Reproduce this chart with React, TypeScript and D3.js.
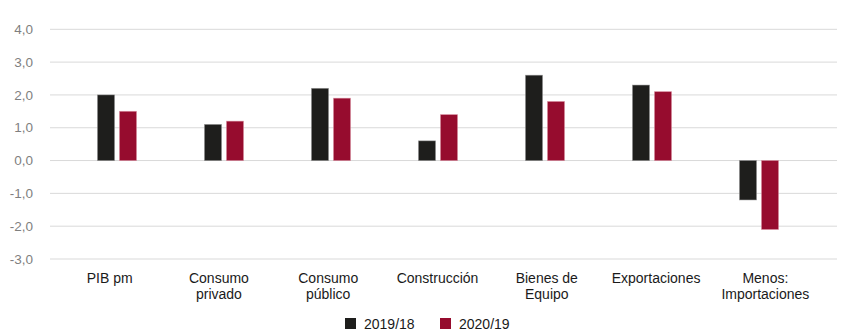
import React from "react";
import * as d3 from "d3";

const categories = [
  ["PIB pm"],
  ["Consumo", "privado"],
  ["Consumo", "público"],
  ["Construcción"],
  ["Bienes de", "Equipo"],
  ["Exportaciones"],
  ["Menos:", "Importaciones"],
];
const seriesNames = ["2019/18", "2020/19"];
const values2019 = [2.0, 1.1, 2.2, 0.6, 2.6, 2.3, -1.2];
const values2020 = [1.5, 1.2, 1.9, 1.4, 1.8, 2.1, -2.1];
const yTicks = [-3, -2, -1, 0, 1, 2, 3, 4];
const colors = ["#1e1e1c", "#960c2e"];

const W = 850;
const H = 336;
const FONT = "'Liberation Sans', Arial, sans-serif";

export default function App() {
  const keys = categories.map((c) => c.join(" "));
  const y = d3.scaleLinear().domain([-3, 4]).range([259, 29.3]);
  const x0 = d3.scaleBand().domain(keys).range([63.5, 812.5]);
  const xl = d3.scaleBand().domain(keys).range([55, 820]);
  const x1 = d3.scaleBand().domain(seriesNames).range([0, 39]).paddingInner(5 / 22);
  const data = [values2019, values2020];
  const fmt = (v: number) => v.toFixed(1).replace(".", ",");

  return (
    <svg width={W} height={H} style={{ position: "absolute", left: 0, top: 0, background: "#fff" }}>
      {yTicks.map((t) => (
        <g key={t}>
          <line x1={50} x2={837} y1={y(t)} y2={y(t)} stroke="#d9d9d9" strokeWidth={1} />
          <text x={33} y={y(t)} dy="0.35em" textAnchor="end" fontFamily={FONT} fontSize={13.5} fill="#7f7f7f">
            {fmt(t)}
          </text>
        </g>
      ))}
      {data.map((vals, si) =>
        vals.map((v, i) => {
          const cx = (x0(keys[i]) as number) + x0.bandwidth() / 2 - 19.5 + (x1(seriesNames[si]) as number);
          const y0 = y(0);
          const yv = y(v);
          return (
            <rect
              key={`${si}-${i}`}
              x={cx}
              y={Math.min(y0, yv)}
              width={x1.bandwidth()}
              height={Math.abs(yv - y0)}
              fill={colors[si]}
              stroke={si === 0 ? "#8a8a8a" : "#d88a9c"}
              strokeOpacity={0.6}
              strokeWidth={0.8}
            />
          );
        })
      )}
      {categories.map((lines, i) => {
        const cx = (xl(keys[i]) as number) + xl.bandwidth() / 2;
        return (
          <text key={i} textAnchor="middle" fontFamily={FONT} fontSize={14} fill="#1a1a1a">
            {lines.map((l, j) => (
              <tspan key={j} x={cx} y={283 + j * 15.5}>
                {l}
              </tspan>
            ))}
          </text>
        );
      })}
      {seriesNames.map((s, i) => {
        const lx = 345 + i * 95;
        return (
          <g key={s}>
            <rect x={lx} y={318} width={11} height={11} fill={colors[i]} />
            <text x={lx + 19} y={324} dy="0.35em" fontFamily={FONT} fontSize={14} fill="#1a1a1a">
              {s}
            </text>
          </g>
        );
      })}
    </svg>
  );
}
